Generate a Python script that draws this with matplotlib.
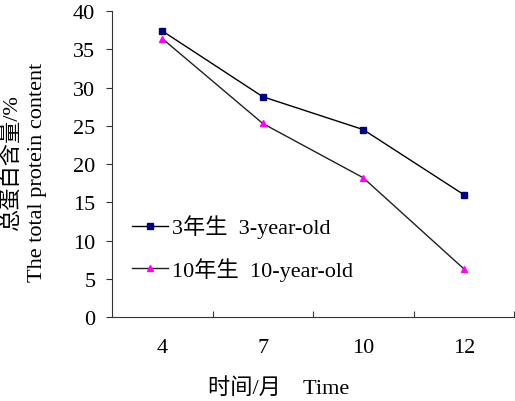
import numpy as np
import matplotlib
matplotlib.use('Agg')
import matplotlib.pyplot as plt

plt.rcParams['font.family'] = ['Liberation Serif', 'Noto Sans CJK SC']

# Data

months = ['4', '7', '10', '12']
protein_3yr = [37.4, 28.8, 24.5, 16.0]
protein_10yr = [36.4, 25.3, 18.2, 6.3]

fs = 16

fig = plt.figure(figsize=(5.15, 4.02), dpi=100)
ax = fig.add_axes([0.2175, 0.209, 0.7806, 0.761])

x = np.arange(len(months))
ax.plot(x, protein_3yr, color='black', lw=1.0, marker='s', ms=5,
        mfc='#000080', mec='#000080', label='3年生  3-year-old')
ax.plot(x, protein_10yr, color='#202020', lw=1.0, marker='^', ms=4,
        mfc='#ff00ff', mec='#ff00ff', label='10年生  10-year-old')

ax.set_xlim(-0.5, 3.5)
ax.set_ylim(0, 40)
ax.set_yticks(np.arange(0, 41, 5))

# category boundaries get the tick marks, labels sit in between
ax.set_xticks(np.arange(0.5, 3.6, 1))
ax.set_xticklabels([])
ax.set_xticks(x, minor=True)
ax.set_xticklabels(months, minor=True)
ax.tick_params(axis='x', which='major', direction='in', length=4, color='#333333')
ax.tick_params(axis='x', which='minor', length=0, pad=15, labelsize=fs)
ax.tick_params(axis='y', direction='out', length=4, pad=8, labelsize=fs, color='#333333')

for s in ['top', 'right']:
    ax.spines[s].set_visible(False)
for s in ['left', 'bottom']:
    ax.spines[s].set_color('#333333')

ax.text(0.415, -0.23, '时间/月    Time', transform=ax.transAxes,
        ha='center', va='center', fontsize=fs)
fig.text(0.024, 0.595, '总蛋白含量/%', rotation=90, ha='center', va='center', fontsize=fs)
fig.text(0.072, 0.572, 'The total protein content', rotation=90, ha='center', va='center', fontsize=fs)

ax.legend(loc='center left', bbox_to_anchor=(0.05, 0.226), frameon=False,
          fontsize=fs, handlelength=1.6, handletextpad=0.2, labelspacing=0.85,
          borderpad=0, borderaxespad=0)

fig.savefig('out.png', dpi=100)
